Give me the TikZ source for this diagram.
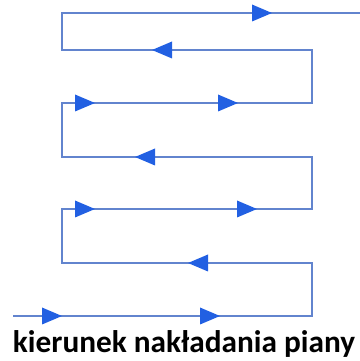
\documentclass[tikz,border=0pt]{standalone}
\usepackage{fontspec}
\setmainfont{Carlito}
\definecolor{lineblue}{RGB}{98,132,206}
\definecolor{tipblue}{RGB}{34,96,226}

\begin{document}
\begin{tikzpicture}[line width=1.1pt]
\useasboundingbox (0,0) rectangle (7.2,7.22);
\draw [lineblue] (7.2,6.96) -- (1.24,6.96) -- (1.24,6.22) -- (6.24,6.22) -- (6.24,5.16) -- (1.24,5.16) -- (1.24,4.08) -- (6.24,4.08) -- (6.24,3.04) -- (1.24,3.04) -- (1.24,1.96) -- (6.24,1.96) -- (6.24,0.9) -- (0.26,0.9);

% arrow heads: tip x / y / direction
\foreach \x/\y/\d in {5.44/6.96/1, 3.04/6.22/-1, 1.9/5.16/1, 4.76/5.16/1, 2.7/4.08/-1, 1.9/3.04/1, 5.14/3.04/1, 3.76/1.96/-1, 1.24/0.9/1, 4.4/0.9/1}
  \fill [tipblue] (\x,\y) -- ++(-0.4*\d,0.17) -- ++(0,-0.34) -- cycle;

\node [anchor=base west,inner sep=0pt] (label) at (0.24,0.16) {\fontsize{17.8pt}{18pt}\selectfont\bfseries kierunek nakładania piany};
\end{tikzpicture}
\end{document}
